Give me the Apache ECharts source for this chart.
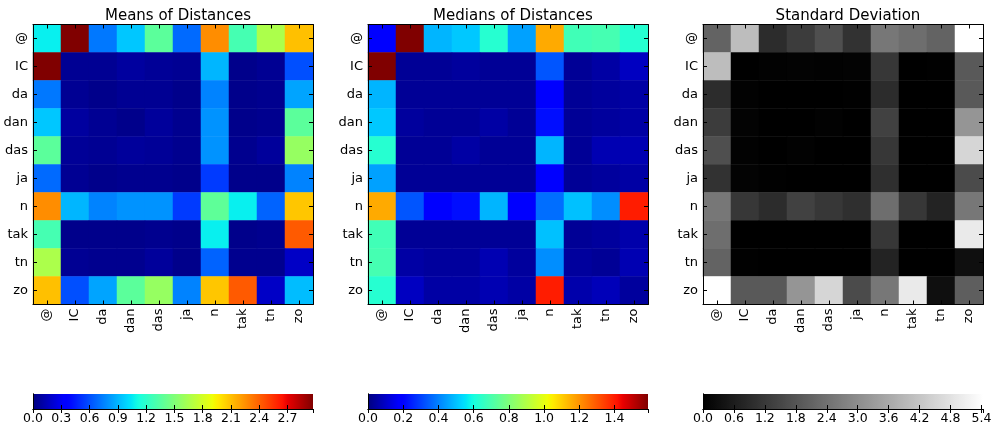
<!DOCTYPE html>
<html><head><meta charset="utf-8">
<script src="https://cdn.jsdelivr.net/npm/echarts@6/dist/echarts.min.js"></script>
<style>html,body{margin:0;padding:0;background:#fff}#c{width:995px;height:428px}</style>
</head><body><div id="c"></div>
<script>
const categories = ['@','IC','da','dan','das','ja','n','tak','tn','zo'];
const titles = ['Means of Distances','Medians of Distances','Standard Deviation'];

const meansRows = [
 [1.07,2.97,0.72,0.95,1.37,0.68,2.26,1.29,1.66,2.10],
 [2.97,0.05,0.05,0.08,0.06,0.05,0.90,0.03,0.05,0.60],
 [0.72,0.05,0.03,0.05,0.05,0.03,0.75,0.03,0.04,0.85],
 [0.95,0.08,0.05,0.03,0.07,0.04,0.80,0.03,0.04,1.37],
 [1.37,0.06,0.05,0.07,0.06,0.04,0.80,0.04,0.07,1.58],
 [0.68,0.05,0.03,0.04,0.04,0.03,0.54,0.03,0.03,0.75],
 [2.26,0.90,0.75,0.80,0.80,0.54,1.38,1.07,0.66,2.08],
 [1.29,0.03,0.03,0.03,0.04,0.03,1.07,0.03,0.04,2.42],
 [1.66,0.05,0.04,0.04,0.07,0.03,0.66,0.04,0.04,0.18],
 [2.10,0.60,0.85,1.37,1.58,0.75,2.08,2.42,0.18,0.92]
];
const mediansRows = [
 [0.18,1.59,0.48,0.51,0.63,0.45,1.16,0.68,0.69,0.63],
 [1.59,0.03,0.03,0.04,0.03,0.03,0.33,0.03,0.05,0.09],
 [0.48,0.03,0.03,0.03,0.03,0.03,0.18,0.03,0.04,0.05],
 [0.51,0.04,0.03,0.03,0.05,0.03,0.22,0.03,0.04,0.05],
 [0.63,0.03,0.03,0.05,0.03,0.03,0.48,0.03,0.07,0.07],
 [0.45,0.03,0.03,0.03,0.03,0.03,0.18,0.03,0.04,0.05],
 [1.16,0.33,0.18,0.22,0.48,0.18,0.37,0.50,0.42,1.40],
 [0.68,0.03,0.03,0.03,0.03,0.03,0.50,0.03,0.04,0.06],
 [0.69,0.05,0.04,0.04,0.07,0.04,0.42,0.04,0.03,0.07],
 [0.63,0.09,0.05,0.05,0.07,0.05,1.40,0.06,0.08,0.04]
];
const stdRows = [
 [2.12,4.02,0.95,1.27,1.69,1.06,2.54,2.33,2.12,5.43],
 [4.02,0.00,0.03,0.05,0.03,0.05,1.16,0.00,0.02,1.90],
 [0.95,0.03,0.00,0.00,0.00,0.02,0.95,0.00,0.00,1.90],
 [1.27,0.05,0.00,0.00,0.04,0.00,1.38,0.00,0.00,3.18],
 [1.69,0.03,0.00,0.04,0.00,0.00,1.16,0.00,0.00,4.55],
 [1.06,0.05,0.02,0.00,0.00,0.00,1.00,0.00,0.00,1.60],
 [2.54,1.16,0.95,1.38,1.16,1.00,2.33,1.16,0.74,2.54],
 [2.33,0.00,0.00,0.00,0.00,0.00,1.16,0.00,0.00,4.98],
 [2.12,0.02,0.00,0.00,0.00,0.00,0.74,0.00,0.00,0.32],
 [5.43,1.90,1.90,3.18,4.55,1.60,2.54,4.98,0.32,2.00]
];
const colorbarMax = [2.97, 1.59, 5.43];
const colorbarInterval = [0.3, 0.2, 0.6];

function jet(t){
  const cl=v=>Math.max(0,Math.min(1,v));
  let r = t<0.35?0:t<0.66?(t-0.35)/0.31:t<0.89?1:1-0.5*(t-0.89)/0.11;
  let g = t<0.125?0:t<0.375?(t-0.125)/0.25:t<0.64?1:t<0.91?1-(t-0.64)/0.27:0;
  let b = t<0.11?0.5+0.5*t/0.11:t<0.34?1:t<0.65?1-(t-0.34)/0.31:0;
  return 'rgb('+Math.round(cl(r)*255)+','+Math.round(cl(g)*255)+','+Math.round(cl(b)*255)+')';
}
const N=101;
const jetColors=[], grayColors=[];
for(let i=0;i<N;i++){const t=i/(N-1); jetColors.push(jet(t)); const v=Math.round(t*255); grayColors.push('rgb('+v+','+v+','+v+')');}
const palettes=[jetColors,jetColors,grayColors];

const chart = echarts.init(document.getElementById('c'));
const lefts=[33,368,703];
const W=280, TOP=24.5, H=280;
const grids=[], xAxes=[], yAxes=[], series=[], visualMaps=[], titleObjs=[];
const font='DejaVu Sans';
const tick={show:true,inside:true,length:4,lineStyle:{color:'#000',width:1}};
const aline={show:true,lineStyle:{color:'#000',width:1}};
const allRows=[meansRows,mediansRows,stdRows];

for(let k=0;k<3;k++){
  const gi=grids.length;
  grids.push({left:lefts[k],top:TOP,width:W,height:H});
  const xb=xAxes.length;
  xAxes.push({type:'category',z:10,gridIndex:gi,data:categories,position:'bottom',axisLine:aline,
    axisTick:Object.assign({alignWithLabel:true},tick),
    axisLabel:{rotate:90,margin:4,color:'#000',fontFamily:font,fontSize:13,interval:0},splitLine:{show:false}});
  xAxes.push({type:'category',z:10,gridIndex:gi,data:categories,position:'top',axisLine:aline,
    axisTick:Object.assign({alignWithLabel:true},tick),axisLabel:{show:false},splitLine:{show:false}});
  const yb=yAxes.length;
  yAxes.push({type:'category',z:10,gridIndex:gi,data:categories,inverse:true,position:'left',axisLine:aline,
    axisTick:Object.assign({alignWithLabel:true},tick),
    axisLabel:{margin:5,color:'#000',fontFamily:font,fontSize:13,interval:0},splitLine:{show:false}});
  yAxes.push({type:'category',z:10,gridIndex:gi,data:categories,inverse:true,position:'right',axisLine:aline,
    axisTick:Object.assign({alignWithLabel:true},tick),axisLabel:{show:false},splitLine:{show:false}});
  const data=[];
  allRows[k].forEach((row,i)=>row.forEach((v,j)=>data.push([j,i,v])));
  const si=series.length;
  series.push({type:'heatmap',xAxisIndex:xb,yAxisIndex:yb,data:data,z:1,itemStyle:{borderWidth:0},emphasis:{disabled:true},progressive:0});
  visualMaps.push({type:'continuous',show:false,seriesIndex:si,min:0,max:colorbarMax[k],inRange:{color:palettes[k]}});
  titleObjs.push({text:titles[k],left:lefts[k]+W/2,top:4,textAlign:'center',textStyle:{fontFamily:font,fontSize:15,fontWeight:'normal',color:'#000'}});

  // colorbar
  const cg=grids.length;
  grids.push({left:lefts[k],top:394,width:W,height:15});
  const cx=xAxes.length;
  xAxes.push({type:'value',z:10,gridIndex:cg,min:0,max:colorbarMax[k],interval:colorbarInterval[k],position:'bottom',
    axisLine:aline,axisTick:tick,splitLine:{show:false},
    axisLabel:{showMaxLabel:false,showMinLabel:true,margin:3,color:'#000',fontFamily:font,fontSize:12.5,formatter:v=>v.toFixed(1)}});
  xAxes.push({type:'value',z:10,gridIndex:cg,min:0,max:colorbarMax[k],interval:colorbarInterval[k],position:'top',
    axisLine:aline,axisTick:tick,splitLine:{show:false},axisLabel:{show:false}});
  const cy=yAxes.length;
  yAxes.push({type:'value',z:10,gridIndex:cg,min:0,max:1,position:'left',axisLine:aline,axisTick:{show:false},axisLabel:{show:false},splitLine:{show:false}});
  yAxes.push({type:'value',z:10,gridIndex:cg,min:0,max:1,position:'right',axisLine:aline,axisTick:{show:false},axisLabel:{show:false},splitLine:{show:false}});
  const pal=palettes[k];
  series.push({type:'custom',xAxisIndex:cx,yAxisIndex:cy,data:[[0,colorbarMax[k]]],z:0,silent:true,
    renderItem:function(params,api){
      const p0=api.coord([api.value(0),0]); const p1=api.coord([api.value(1),1]);
      const stops=pal.map((c,i)=>({offset:i/(pal.length-1),color:c}));
      return {type:'rect',shape:{x:p0[0],y:p1[1],width:p1[0]-p0[0],height:p0[1]-p1[1]},
        style:{fill:new echarts.graphic.LinearGradient(0,0,1,0,stops)}};
    }});
}

chart.setOption({animation:false,title:titleObjs,grid:grids,xAxis:xAxes,yAxis:yAxes,visualMap:visualMaps,series:series});
</script></body></html>
